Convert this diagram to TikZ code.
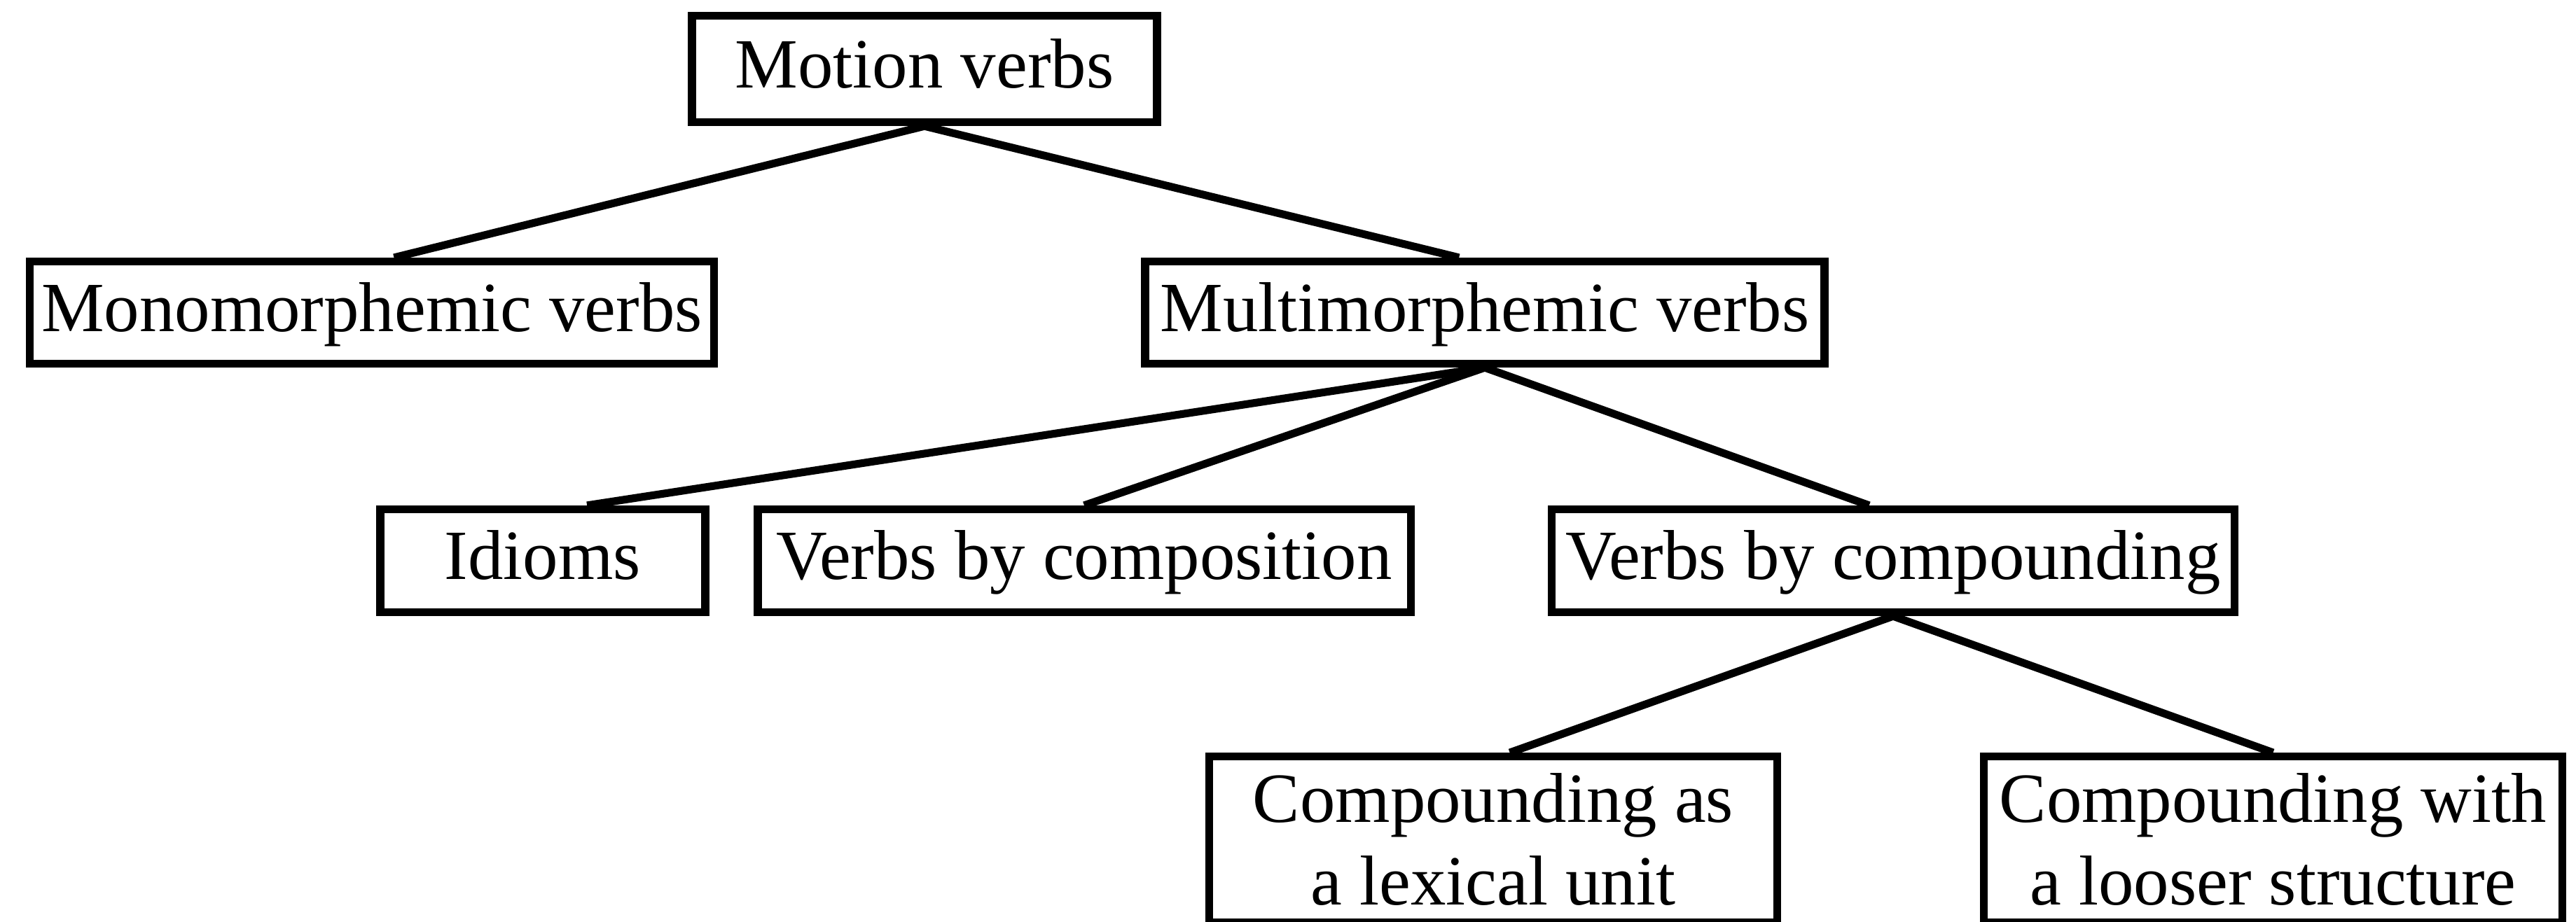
\documentclass[tikz,border=0pt]{standalone}
\usepackage{fontspec}
\setmainfont{Liberation Serif}
\usepackage{tikz}
\tikzset{
  box/.style={draw, line width=1.2pt, inner sep=1pt, font=\fontsize{10.9}{12.8}\selectfont, text height=0.68em, text depth=0.1em},
  twobox/.style={draw, line width=1.2pt, inner sep=1pt, align=center, font=\fontsize{10.9}{12.8}\selectfont},
  link/.style={line width=1.2pt}
}

\begin{document}
\begin{tikzpicture}[x=0.38cm, y=-0.38cm]
			%%%%% START %%%%%
			\useasboundingbox (0,0) rectangle (36.78,13.16);
			
			\node[box, minimum width=2.523cm, minimum height=0.578cm] (motion) at (13.20, 0.985) {Motion verbs};
			
			\node[box, minimum width=3.713cm, minimum height=0.555cm] (mono) at (5.31, 4.465) {Monomorphemic verbs};
			\node[box, minimum width=3.686cm, minimum height=0.555cm] (multi) at (21.20, 4.465) {Multimorphemic verbs};
			
			\node[box, minimum width=1.763cm, minimum height=0.559cm] (idioms) at (7.75, 8.01) {Idioms};
			\node[box, minimum width=3.542cm, minimum height=0.559cm] (compo) at (15.48, 8.01) {Verbs by composition};
			\node[box, minimum width=3.705cm, minimum height=0.559cm] (compd) at (27.03, 8.01) {Verbs by compounding};
			
			\node[twobox, minimum width=3.082cm, minimum height=0.9cm] (asunit) at (21.32, 11.99) {Compounding as\\a lexical unit};
			\node[twobox, minimum width=3.139cm, minimum height=0.9cm] (looser) at (32.455, 11.99) {Compounding with\\a looser structure};
			
			\draw[link] (motion.south) -- ([xshift=0.12cm]mono.north);
			\draw[link] (motion.south) -- ([xshift=-0.14cm]multi.north);
			
			\draw[link] (multi.south) -- ([xshift=0.24cm]idioms.north);
			\draw[link] (multi.south) -- (compo.north);
			\draw[link] (multi.south) -- ([xshift=-0.13cm]compd.north);
			
			\draw[link] (compd.south) -- ([xshift=0.09cm]asunit.north);
			\draw[link] (compd.south) -- (looser.north);
			
			%%%%% END %%%%%
\end{tikzpicture}
\end{document}
